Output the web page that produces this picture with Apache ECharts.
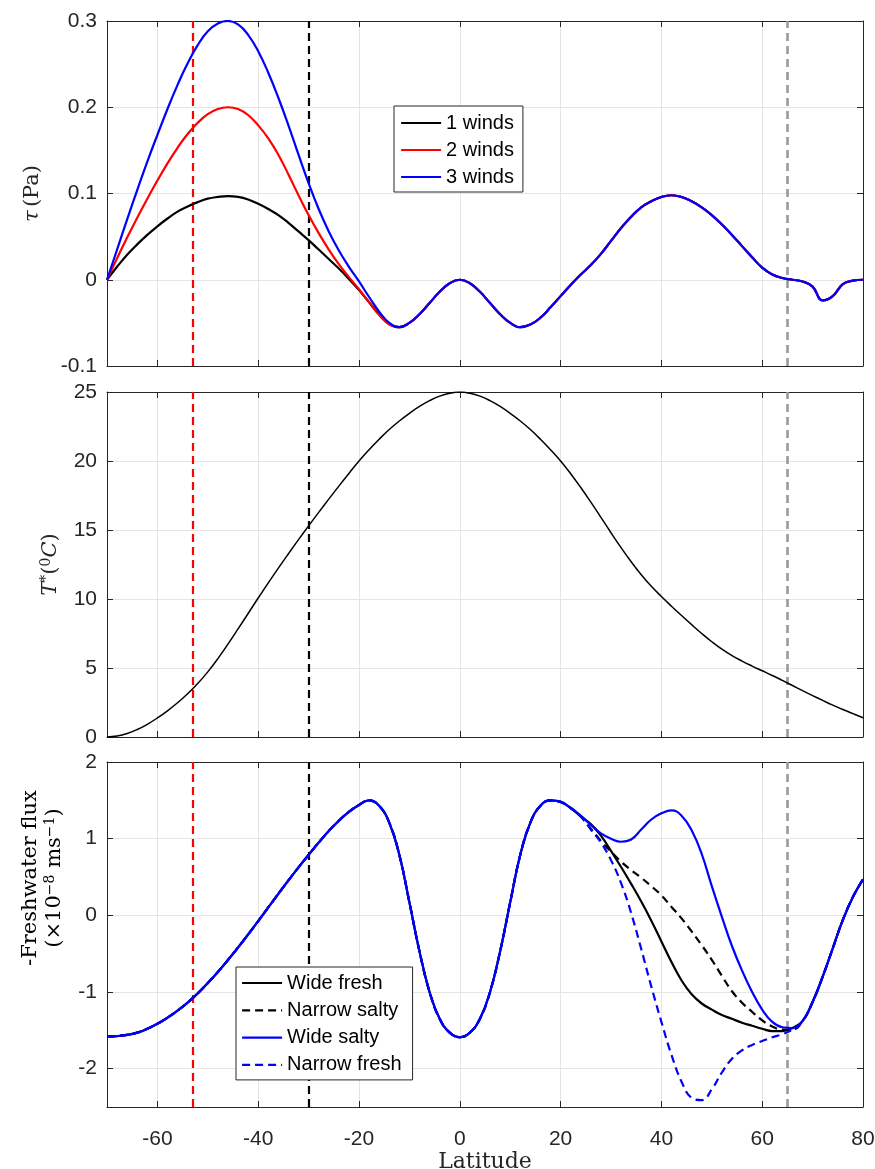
<!DOCTYPE html>
<html><head><meta charset="utf-8">
<script src="https://cdn.jsdelivr.net/npm/echarts@6/dist/echarts.min.js"></script>
<style>html,body{margin:0;padding:0;background:#fff}#c{width:875px;height:1169px}</style>
</head><body><div id="c"></div>
<script>
// ---------- data ----------
const lat = [-70,-68,-66,-64,-62,-60,-58,-56,-54,-52,-50,-48,-46,-44,-42,-40,-38,-36,-34,-32,-30,-28,-26,-24,-22,-20,-18,-16,-14,-12,-10,-8,-6,-4,-2,0,2,4,6,8,10,12,14,16,18,20,22,24,26,28,30,32,34,36,38,40,42,44,46,48,50,52,54,56,58,60,62,64,66,68,70,72,74,76,78,80];

// wind stress: southern lobe per case (-70..-14), shared remainder (-12..80)
const tau1South = [0,0.015,0.029,0.041,0.052,0.062,0.071,0.079,0.085,0.090,0.094,0.096,0.097,0.096,0.093,0.088,0.082,0.075,0.066,0.056,0.046,0.035,0.024,0.013,0.001,-0.012,-0.026,-0.040,-0.051];
const tau2South = [0,0.025,0.049,0.072,0.094,0.115,0.135,0.153,0.169,0.182,0.192,0.198,0.200,0.198,0.191,0.179,0.164,0.145,0.122,0.098,0.075,0.054,0.035,0.018,0.003,-0.011,-0.026,-0.041,-0.052];
const tau3South = [0,0.035,0.070,0.104,0.137,0.168,0.198,0.226,0.251,0.272,0.288,0.297,0.300,0.296,0.284,0.265,0.240,0.211,0.179,0.145,0.112,0.082,0.056,0.034,0.015,-0.002,-0.020,-0.037,-0.050];
const tauNorth = [-0.055,-0.050,-0.040,-0.027,-0.014,-0.004,0,-0.004,-0.014,-0.027,-0.040,-0.050,-0.055,-0.052,-0.044,-0.032,-0.019,-0.006,0.006,0.017,0.030,0.045,0.060,0.073,0.084,0.091,0.096,0.098,0.096,0.091,0.084,0.075,0.064,0.052,0.039,0.026,0.014,0.006,0.002,0,-0.002,-0.008,-0.024,-0.019,-0.005,-0.001,0];

const tStar = [0,0.07,0.25,0.54,0.92,1.38,1.90,2.48,3.13,3.87,4.72,5.68,6.73,7.83,8.95,10.07,11.17,12.24,13.28,14.30,15.30,16.28,17.24,18.18,19.10,20.0,20.82,21.58,22.28,22.90,23.45,23.95,24.37,24.70,24.91,25.0,24.91,24.70,24.37,23.95,23.45,22.90,22.28,21.58,20.82,20.0,19.08,18.08,17.02,15.92,14.80,13.72,12.70,11.76,10.92,10.18,9.48,8.80,8.14,7.50,6.90,6.36,5.90,5.50,5.14,4.80,4.46,4.10,3.73,3.36,3.0,2.65,2.31,1.99,1.69,1.40];

// freshwater flux: common part (-70..22) and the four northern branches (24..80)
const fwSouth = [-1.58,-1.575,-1.56,-1.53,-1.48,-1.415,-1.335,-1.243,-1.138,-1.018,-0.883,-0.738,-0.583,-0.42,-0.25,-0.075,0.103,0.281,0.456,0.626,0.789,0.949,1.099,1.234,1.349,1.439,1.50,1.43,1.21,0.79,0.17,-0.47,-1.0,-1.35,-1.53,-1.59,-1.53,-1.35,-1.0,-0.47,0.17,0.79,1.21,1.43,1.50,1.48,1.40];
const fwWideFresh   = [1.29,1.19,1.04,0.84,0.63,0.41,0.18,-0.07,-0.34,-0.61,-0.85,-1.03,-1.15,-1.23,-1.30,-1.35,-1.40,-1.44,-1.48,-1.51,-1.51,-1.47,-1.38,-1.13,-0.80,-0.43,-0.06,0.24,0.47];
const fwNarrowSalty = [1.29,1.13,0.97,0.83,0.70,0.59,0.49,0.38,0.26,0.11,-0.04,-0.21,-0.39,-0.58,-0.79,-0.99,-1.14,-1.26,-1.37,-1.45,-1.49,-1.49,-1.38,-1.13,-0.80,-0.43,-0.06,0.24,0.47];
const fwWideSalty   = [1.30,1.18,1.07,1.00,0.96,0.99,1.12,1.25,1.33,1.37,1.30,1.11,0.80,0.38,-0.02,-0.40,-0.72,-1.00,-1.23,-1.39,-1.46,-1.47,-1.38,-1.13,-0.80,-0.43,-0.06,0.24,0.47];
const fwNarrowFresh = [1.29,1.12,0.95,0.72,0.42,0.03,-0.44,-0.93,-1.39,-1.82,-2.17,-2.38,-2.41,-2.27,-2.05,-1.87,-1.76,-1.69,-1.64,-1.59,-1.55,-1.49,-1.38,-1.13,-0.80,-0.43,-0.06,0.24,0.47];

const refLat = [-53, -30, 65];
const xTicks = [-60, -40, -20, 0, 20, 40, 60, 80];
const yTicks3 = [-2, -1, 0, 1, 2];
const windNames = ['1 winds', '2 winds', '3 winds'];
const fwNames = ['Wide fresh', 'Narrow salty', 'Wide salty', 'Narrow fresh'];

// ---------- chart ----------
const AX = '#262626', GRID = '#e5e5e5';
const TICKFONT = {fontFamily: 'Liberation Sans, Arial, sans-serif', fontSize: 21, color: AX};
const SERIF = 'DejaVu Serif, serif';
const pair = ys => lat.map((x, i) => [x, ys[i]]);
const fw = north => pair(fwSouth.concat(north));
const tau = south => pair(south.concat(tauNorth));

const gridTops = [21, 392, 762];
const grids = gridTops.map(t => ({left: 107, right: 12, top: t, height: 345, outerBoundsMode: 'none', containLabel: false}));

const xAxes = [], yAxes = [];
const yCfg = [
  {min: -0.1, max: 0.3, interval: 0.1},
  {min: 0, max: 25, interval: 5},
  {min: -2.5, max: 2, custom: yTicks3}
];
const richName = {
  i: {fontFamily: SERIF, fontStyle: 'italic', fontSize: 21, color: AX, lineHeight: 24},
  r: {fontFamily: SERIF, fontSize: 21, color: AX, lineHeight: 24},
  s: {fontFamily: SERIF, fontSize: 14, color: AX, lineHeight: 14, verticalAlign: 'top'}
};
const yNames = [
  '{i|τ} {r|(Pa)}',
  '{i|T}{s|*}{r|(}{s|0}{i|C}{r|)}',
  '{r|-Freshwater flux}\n{r|(×10}{s|−8}{r| ms}{s|−1}{r|)}'
];
const yGaps = [62, 44, 40];

for (let g = 0; g < 3; g++) {
  const base = {
    type: 'value', gridIndex: g, min: -70, max: 80,
    axisLine: {show: true, onZero: false, lineStyle: {color: AX, width: 1}},
    axisTick: {show: true, inside: true, length: 6, customValues: xTicks, lineStyle: {color: AX, width: 1}},
    axisLabel: {show: g === 2, customValues: xTicks, margin: 22, ...TICKFONT},
    splitLine: {show: true, lineStyle: {color: GRID, width: 1}}
  };
  if (g === 2) {
    base.name = 'Latitude';
    base.nameLocation = 'middle';
    base.nameGap = 35;
    base.nameTextStyle = {fontFamily: SERIF, fontSize: 22, color: AX};
  }
  xAxes.push(base);
  xAxes.push({
    type: 'value', gridIndex: g, min: -70, max: 80, position: 'top',
    axisLine: {show: true, onZero: false, lineStyle: {color: AX, width: 1}},
    axisTick: {show: true, inside: true, length: 6, customValues: xTicks, lineStyle: {color: AX, width: 1}},
    axisLabel: {show: false}, splitLine: {show: false}
  });
  const c = yCfg[g];
  const yl = {
    type: 'value', gridIndex: g, min: c.min, max: c.max,
    axisLine: {show: true, onZero: false, lineStyle: {color: AX, width: 1}},
    axisTick: {show: true, inside: true, length: 6, lineStyle: {color: AX, width: 1}},
    axisLabel: {show: true, margin: 10, ...TICKFONT},
    splitLine: {show: true, lineStyle: {color: GRID, width: 1}}
  };
  if (g < 2) {
    yl.name = yNames[g]; yl.nameLocation = 'middle'; yl.nameGap = yGaps[g];
    yl.nameTextStyle = {rich: richName};
  }
  const yr = {
    type: 'value', gridIndex: g, min: c.min, max: c.max, position: 'right',
    axisLine: {show: true, onZero: false, lineStyle: {color: AX, width: 1}},
    axisTick: {show: true, inside: true, length: 6, lineStyle: {color: AX, width: 1}},
    axisLabel: {show: false}, splitLine: {show: false}
  };
  if (c.custom) {
    yl.axisTick.customValues = c.custom; yl.axisLabel.customValues = c.custom;
    yr.axisTick.customValues = c.custom;
  } else {
    yl.interval = c.interval; yr.interval = c.interval;
  }
  yAxes.push(yl, yr);
}

const refColors = ['#ff0000', '#000000', '#999999'];
const markLine = {
  silent: true, symbol: ['none', 'none'], label: {show: false}, animation: false, z: 3,
  data: refLat.map((v, k) => ({xAxis: v, lineStyle: {color: refColors[k], type: [8, 5], width: k === 2 ? 2.6 : 2.2}}))
};

const line = (name, data, g, color, dashed, width) => ({
  name, type: 'line', xAxisIndex: 2 * g, yAxisIndex: 2 * g, data,
  symbol: 'none', smooth: 0.45, animation: false, silent: true,
  lineStyle: {color, width: width || 2.2, type: dashed ? [8, 5] : 'solid'},
  itemStyle: {color}
});

const series = [
  line(windNames[0], tau(tau1South), 0, '#000000'),
  line(windNames[1], tau(tau2South), 0, '#ff0000'),
  line(windNames[2], tau(tau3South), 0, '#0000ff'),
  line('T*', pair(tStar), 1, '#000000', false, 1.5),
  line(fwNames[0], fw(fwWideFresh), 2, '#000000'),
  line(fwNames[1], fw(fwNarrowSalty), 2, '#000000', true),
  line(fwNames[2], fw(fwWideSalty), 2, '#0000ff'),
  line(fwNames[3], fw(fwNarrowFresh), 2, '#0000ff', true)
];
series[2].markLine = markLine;
series[3].markLine = markLine;
series[7].markLine = markLine;

const legendBase = {
  orient: 'vertical', itemWidth: 40, itemHeight: 18, itemGap: 7, z: 20,
  borderColor: AX, borderWidth: 1, backgroundColor: '#ffffff', borderRadius: 0,
  selectedMode: false,
  itemStyle: {opacity: 0},
  lineStyle: {width: 2.2},
  textStyle: {fontFamily: 'Liberation Sans, Arial, sans-serif', fontSize: 20, lineHeight: 18, color: '#000'}
};

const option = {
  backgroundColor: '#ffffff',
  animation: false,
  grid: grids,
  xAxis: xAxes,
  yAxis: yAxes,
  legend: [
    {...legendBase, data: windNames, left: 394, top: 106, padding: [7, 9, 5, 6]},
    {...legendBase, data: fwNames, left: 236, top: 967, padding: [6, 11, 5, 5], itemGap: 7.3}
  ],
  graphic: [{
    type: 'text', x: 43, y: 878, rotation: Math.PI / 2, silent: true,
    style: {text: yNames[2], rich: richName, align: 'center', verticalAlign: 'middle'}
  }],
  series
};
const chart = echarts.init(document.getElementById('c'), null, {renderer: 'canvas'});
chart.setOption(option);
</script>
</body></html>
